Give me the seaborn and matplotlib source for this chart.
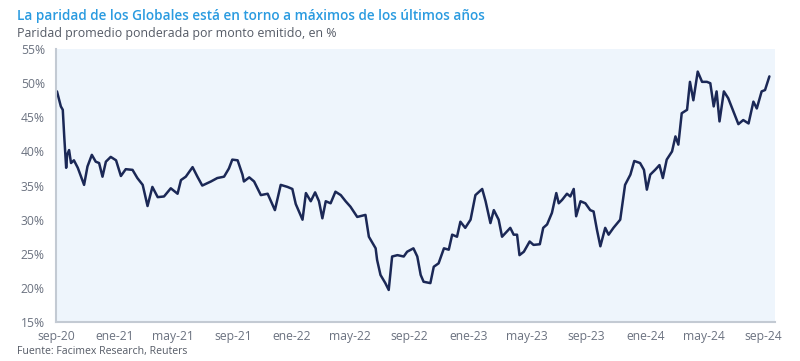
import matplotlib
matplotlib.use("Agg")
import matplotlib.pyplot as plt
import pandas as pd
import seaborn as sns

# values (approximate)
fechas = [
    "2020-09-03", "2020-09-11", "2020-09-15", "2020-09-18", "2020-09-22", "2020-09-24",
    "2020-09-28", "2020-10-02", "2020-10-08", "2020-10-16", "2020-10-29", "2020-11-05",
    "2020-11-14", "2020-11-22", "2020-11-29", "2020-12-06", "2020-12-13", "2020-12-23",
    "2021-01-03", "2021-01-13", "2021-01-23", "2021-02-06", "2021-02-16", "2021-02-27",
    "2021-03-09", "2021-03-19", "2021-03-30", "2021-04-12", "2021-04-26", "2021-05-10",
    "2021-05-17", "2021-05-27", "2021-06-10", "2021-06-20", "2021-06-30", "2021-07-18",
    "2021-07-31", "2021-08-14", "2021-08-24", "2021-08-31", "2021-09-11", "2021-09-21",
    "2021-09-24", "2021-10-05", "2021-10-15", "2021-10-29", "2021-11-12", "2021-11-27",
    "2021-12-09", "2021-12-23", "2022-01-02", "2022-01-09", "2022-01-23", "2022-01-30",
    "2022-02-09", "2022-02-18", "2022-02-26", "2022-03-05", "2022-03-12", "2022-03-22",
    "2022-04-01", "2022-04-12", "2022-04-22", "2022-05-02", "2022-05-16", "2022-06-02",
    "2022-06-09", "2022-06-23", "2022-06-26", "2022-07-03", "2022-07-13", "2022-07-20",
    "2022-07-27", "2022-08-07", "2022-08-20", "2022-08-27", "2022-09-09", "2022-09-17",
    "2022-09-24", "2022-09-30", "2022-10-14", "2022-10-21", "2022-10-31", "2022-11-11",
    "2022-11-21", "2022-11-28", "2022-12-08", "2022-12-15", "2022-12-25", "2023-01-05",
    "2023-01-15", "2023-01-29", "2023-02-05", "2023-02-15", "2023-02-22", "2023-03-04",
    "2023-03-11", "2023-03-28", "2023-04-04", "2023-04-11", "2023-04-16", "2023-04-25",
    "2023-05-07", "2023-05-15", "2023-05-28", "2023-06-04", "2023-06-12", "2023-06-22",
    "2023-07-01", "2023-07-06", "2023-07-13", "2023-07-23", "2023-07-30", "2023-08-06",
    "2023-08-11", "2023-08-20", "2023-08-30", "2023-09-09", "2023-09-16", "2023-09-23",
    "2023-09-30", "2023-10-10", "2023-10-17", "2023-10-27", "2023-11-10", "2023-11-20",
    "2023-12-01", "2023-12-09", "2023-12-21", "2023-12-29", "2024-01-04", "2024-01-11",
    "2024-01-21", "2024-01-30", "2024-02-06", "2024-02-14", "2024-02-25", "2024-03-03",
    "2024-03-09", "2024-03-16", "2024-03-27", "2024-04-02", "2024-04-09", "2024-04-18",
    "2024-04-27", "2024-05-07", "2024-05-14", "2024-05-21", "2024-05-27", "2024-06-02",
    "2024-06-11", "2024-06-20", "2024-07-01", "2024-07-11", "2024-07-21", "2024-08-01",
    "2024-08-11", "2024-08-18", "2024-08-28", "2024-09-04", "2024-09-13",
]
paridad = [
    48.8, 46.6, 46.1, 42.2, 37.6, 39.5,
    40.2, 38.3, 38.7, 37.6, 35.1, 37.8,
    39.5, 38.5, 38.3, 36.3, 38.5, 39.2,
    38.7, 36.4, 37.4, 37.3, 36.1, 35.1,
    32.0, 34.8, 33.3, 33.4, 34.6, 33.8,
    35.8, 36.3, 37.7, 36.3, 35.0, 35.6,
    36.1, 36.3, 37.5, 38.8, 38.7, 36.6,
    35.6, 36.2, 35.6, 33.6, 33.8, 31.4,
    35.1, 34.8, 34.5, 32.3, 30.0, 33.9,
    32.7, 34.0, 32.7, 30.2, 32.7, 32.4,
    34.1, 33.6, 32.7, 31.9, 30.4, 30.7,
    27.5, 25.8, 24.1, 21.9, 20.7, 19.7,
    24.6, 24.8, 24.6, 25.3, 25.8, 24.6,
    21.9, 20.9, 20.7, 23.1, 23.6, 25.8,
    25.6, 27.8, 27.5, 29.7, 28.8, 30.0,
    33.6, 34.5, 32.7, 29.5, 31.4, 30.0,
    27.5, 28.8, 27.8, 27.8, 24.8, 25.3,
    26.8, 26.3, 26.4, 28.8, 29.3, 31.0,
    33.9, 32.4, 32.9, 33.8, 33.4, 34.5,
    30.5, 32.7, 32.4, 31.4, 31.2, 28.5,
    26.1, 28.8, 27.8, 28.8, 30.0, 35.1,
    36.6, 38.6, 38.3, 37.3, 34.4, 36.6,
    37.3, 38.0, 36.1, 38.8, 40.0, 42.2,
    41.0, 45.6, 46.1, 50.2, 47.5, 51.7,
    50.2, 50.2, 50.0, 46.6, 48.8, 44.4,
    48.8, 47.8, 45.8, 44.0, 44.6, 44.1,
    47.3, 46.3, 48.8, 49.0, 51.0,
]
meses_ticks = ["2020-09-01", "2021-01-01", "2021-05-01", "2021-09-01", "2022-01-01",
               "2022-05-01", "2022-09-01", "2023-01-01", "2023-05-01", "2023-09-01",
               "2024-01-01", "2024-05-01", "2024-09-01"]
etiquetas_x = ["sep-20", "ene-21", "may-21", "sep-21", "ene-22", "may-22", "sep-22",
               "ene-23", "may-23", "sep-23", "ene-24", "may-24", "sep-24"]
valores_y = [15, 20, 25, 30, 35, 40, 45, 50, 55]

df = pd.DataFrame({"fecha": pd.to_datetime(fechas), "paridad": paridad})

sns.set_theme(style="white")
plt.rcParams["font.family"] = ["Open Sans", "DejaVu Sans"]

fig = plt.figure(figsize=(8, 3.61), dpi=100)
ax = fig.add_axes([0.07, 0.108, 0.899, 0.756])
ax.set_facecolor("#eef5fc")

sns.lineplot(data=df, x="fecha", y="paridad", ax=ax, color="#1b2856", linewidth=1.8)

ax.set_xlim(pd.Timestamp("2020-09-01"), pd.Timestamp("2024-09-25"))
ax.set_ylim(15, 55)
ax.set_xticks(pd.to_datetime(meses_ticks))
ax.set_xticklabels(etiquetas_x)
ax.set_yticks(valores_y)
ax.set_yticklabels([f"{v}%" for v in valores_y])
ax.tick_params(axis="x", length=0, pad=6, labelsize=8.7, labelcolor="#6b7280")
ax.tick_params(axis="y", length=0, pad=8, labelsize=8.7, labelcolor="#6b7280")
ax.set_xlabel("")
ax.set_ylabel("")

for s in ["top", "right"]:
    ax.spines[s].set_visible(False)
for s in ["left", "bottom"]:
    ax.spines[s].set_color("#c3cad3")
    ax.spines[s].set_linewidth(1.5)

fig.text(0.021, 0.975, "La paridad de los Globales está en torno a máximos de los últimos años",
         color="#2a9be0", fontsize=9.85, fontweight="semibold", va="top", ha="left")
fig.text(0.021, 0.925, "Paridad promedio ponderada por monto emitido, en %",
         color="#555b66", fontsize=8.9, fontweight="medium", va="top", ha="left")
fig.text(0.021, 0.01, "Fuente: Facimex Research, Reuters",
         color="#555b66", fontsize=7.6, va="bottom", ha="left")

fig.savefig("out.png", dpi=100)
